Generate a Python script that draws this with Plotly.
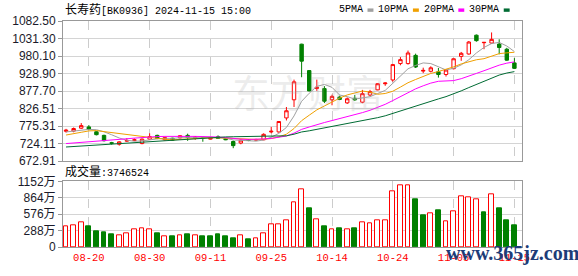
import numpy as np
import pandas as pd
import plotly.graph_objects as go

# ---------------- data ----------------
dates = ["08-15", "08-16", "08-19", "08-20", "08-21", "08-22", "08-23", "08-26", "08-27", "08-28",
         "08-29", "08-30", "09-02", "09-03", "09-04", "09-05", "09-06", "09-09", "09-10", "09-11",
         "09-12", "09-13", "09-18", "09-19", "09-20", "09-23", "09-24", "09-25", "09-26", "09-27",
         "09-30", "10-08", "10-09", "10-10", "10-11", "10-14", "10-15", "10-16", "10-17", "10-18",
         "10-21", "10-22", "10-23", "10-24", "10-25", "10-28", "10-29", "10-30", "10-31", "11-01",
         "11-04", "11-05", "11-06", "11-07", "11-08", "11-11", "11-12", "11-13", "11-14", "11-15"]

open_ = [760, 760.5, 769, 772.7, 758.5, 748, 726.5, 722, 731, 733,
         724, 737, 748, 735, 739.7, 740.7, 748, 740, 742, 737,
         744, 738.8, 730, 725.6, 735, 734, 735, 758, 758, 799,
         852, 1014.7, 937.5, 885, 884.8, 852, 860, 843, 856.5, 845,
         866, 881, 899, 910, 958, 958, 982, 936, 935.5, 934,
         926, 943, 979, 986, 1041, 1019, 1018, 1015, 1000, 960]
high = [767, 771, 784, 778, 760, 750, 729, 731, 740, 739,
        739, 754, 750, 744, 741, 748, 753, 746, 744.4, 742,
        748, 740, 733, 736, 737, 738, 754, 772.7, 790, 831,
        911, 1016, 938, 911, 892, 867, 864, 859, 866, 881,
        881, 900, 903, 957, 977, 996, 987, 946, 950, 945,
        941, 973, 992, 1024, 1043, 1020.5, 1049, 1029, 1004, 974]
low = [756, 757, 767, 764, 748, 730, 721, 718, 729, 731,
       722, 735, 737, 733, 732, 739, 732, 735, 729.4, 736,
       738, 734, 710.5, 722, 731, 732, 734, 754, 756, 791.6,
       831, 918, 877, 878, 842.5, 836, 851, 840, 849, 842,
       863, 880, 893, 905, 953, 955, 945, 930, 932, 917,
       920, 941, 966, 984, 1022, 1000, 1016, 985, 966, 942]
close = [763, 768, 776.5, 765, 750, 732.5, 725, 729, 733, 735,
         737, 744.5, 739, 741.5, 734, 747, 741.6, 743, 741, 740,
         739, 735, 718, 734, 733, 736, 751, 760, 788.5, 820,
         904.6, 965, 878, 889, 848, 862, 853, 855, 851.8, 870,
         876, 899, 901, 955, 969.5, 989, 948, 938, 945.5, 926,
         939, 972, 988, 1021, 1025, 1020, 1028.8, 1005, 968, 944]
prev_close = 755.0

# volume in 万 (10k shares)
volume_wan = [354, 382, 433, 371, 270, 253, 219, 197, 247, 303,
              320, 303, 236, 180, 185, 197, 219, 197, 185, 185,
              219, 185, 157, 197, 140, 152, 247, 399, 399, 472,
              776, 1006, 674, 483, 371, 303, 320, 303, 320, 438,
              416, 472, 472, 978, 1079, 1079, 843, 556, 584, 641,
              455, 624, 894, 871, 837, 607, 927, 674, 472, 374.6524]
last_volume = 3746524

# moving-average values at the start of the window (history before the window is not shown)
ma5_head = [758, 760, 764, 765.5]
ma10_head = [749, 752, 757, 761, 762, 759, 756, 753, 750]
ma20_head = [724, 725.5, 727, 728.5, 730, 732, 734, 736, 738, 740,
             742, 743.5, 744.5, 745, 745.5, 745.5, 745, 745, 744.5]
ma30_head = [714, 715.5, 717, 718.5, 720, 721.5, 723, 724.5, 726, 727.5,
             729, 730.5, 732, 733.5, 735, 736.5, 738, 739.5, 741, 742,
             743, 743.5, 744, 744.5, 745, 745.5, 746, 746.2, 746.5]

price_ticks = [672.91, 724.11, 775.31, 826.51, 877.70, 928.90, 980.10, 1031.30, 1082.50]
price_tick_text = ["672.91", "724.11", "775.31", "826.51", "877.70", "928.90", "980.10", "1031.30", "1082.50"]
vol_ticks = [0, 288, 576, 864, 1152]
vol_tick_text = ["0", "288万", "576万", "864万", "1152万"]
date_ticks = ["08-20", "08-30", "09-11", "09-25", "10-14", "10-24", "11-05", "11-15"]

title_name = "长寿药"
title_rest = "[BK0936] 2024-11-15 15:00"
ma_names = ["5PMA", "10PMA", "20PMA", "30PMA"]
ma_colors = ["#a0a0a0", "#f0a000", "#ff00ff", "#006b33"]

# ---------------- derived ----------------
idx = np.arange(len(dates))
close_arr = np.array(close, dtype=float)


def moving_average(n, head):
    s = pd.Series(close_arr).rolling(n).mean().to_numpy()
    s[: n - 1] = head
    return s


mas = [moving_average(5, ma5_head), moving_average(10, ma10_head),
       moving_average(20, ma20_head), moving_average(30, ma30_head)]

prev = np.concatenate([[prev_close], close_arr[:-1]])
up = close_arr >= prev
RED = "#ff0000"
GREEN = "#008000"
vol_fill = np.where(up, "#ffffff", GREEN)
vol_line = np.where(up, RED, GREEN)

tick_idx = [dates.index(d) for d in date_ticks]

# ---------------- figure ----------------
W, H = 578, 276
ML, MR, MT, MB = 57, 56, 21, 21
PW, PH = W - ML - MR, H - MT - MB


def px_x(px):
    return (px - ML) / PW


def px_y(py):
    return (H - MB - py) / PH


fig = go.Figure()

fig.add_trace(go.Candlestick(
    x=idx, open=open_, high=high, low=low, close=close,
    increasing=dict(line=dict(color=RED, width=1), fillcolor="#ffffff"),
    decreasing=dict(line=dict(color=GREEN, width=1), fillcolor=GREEN),
    whiskerwidth=0, showlegend=False, hoverinfo="skip",
    xaxis="x", yaxis="y"))

for m, c in zip(mas, ma_colors):
    fig.add_trace(go.Scatter(x=idx, y=m, mode="lines", line=dict(color=c, width=1),
                             showlegend=False, hoverinfo="skip", xaxis="x", yaxis="y"))

fig.add_trace(go.Bar(
    x=idx, y=volume_wan, width=0.62,
    marker=dict(color=list(vol_fill), line=dict(color=list(vol_line), width=1)),
    showlegend=False, hoverinfo="skip", xaxis="x2", yaxis="y2"))

xrange = [-0.4, len(dates)]
axis_common = dict(showline=True, linecolor="#999999", linewidth=1, mirror=True, zeroline=False)

fig.update_layout(
    width=W, height=H,
    margin=dict(l=ML, r=MR, t=MT, b=MB),
    paper_bgcolor="#ffffff", plot_bgcolor="#ffffff",
    boxgap=0.36,
    bargap=0,
    xaxis=dict(domain=[0, 1], range=xrange, anchor="y", tickvals=tick_idx, showticklabels=False,
               showgrid=True, gridcolor="#cccccc", griddash="dash", gridwidth=1, ticks="",
               rangeslider=dict(visible=False), **axis_common),
    yaxis=dict(domain=[px_y(166), 1], range=[price_ticks[0], price_ticks[-1]], anchor="x",
               tickvals=price_ticks, ticktext=price_tick_text, showgrid=True, gridcolor="#d4d4d4",
               ticks="outside", ticklen=4, tickcolor="#999999",
               tickfont=dict(family="Liberation Sans, Arial, sans-serif", size=12, color="#1a1a2a"),
               **axis_common),
    xaxis2=dict(domain=[0, 1], range=xrange, anchor="y2", tickvals=tick_idx, ticktext=date_ticks,
                showgrid=True, gridcolor="#cccccc", griddash="dash", gridwidth=1, ticks="",
                tickfont=dict(family="Liberation Mono, monospace", size=10.5, color=RED),
                **axis_common),
    yaxis2=dict(domain=[0, px_y(187)], range=[vol_ticks[0], vol_ticks[-1]], anchor="x2",
                tickvals=vol_ticks, ticktext=vol_tick_text, showgrid=True, gridcolor="#d4d4d4",
                ticks="outside", ticklen=4, tickcolor="#999999",
                tickfont=dict(family="Liberation Sans, Noto Sans CJK SC, sans-serif", size=12, color="#1a1a2a"),
                **axis_common),
)

mono = "Liberation Mono, Noto Sans CJK SC, monospace"
annotations = [
    dict(text="<span style='font-size:12px'>%s</span>%s" % (title_name, title_rest),
         x=px_x(57), y=px_y(10), xref="paper", yref="paper", xanchor="left", yanchor="middle",
         showarrow=False, font=dict(family=mono, size=10, color="#000000")),
    dict(text="<span style='font-size:12px'>成交量</span>:%d" % last_volume,
         x=px_x(57), y=px_y(177), xref="paper", yref="paper", xanchor="left", yanchor="middle",
         showarrow=False, font=dict(family=mono, size=10, color="#000000")),
    dict(text="东方财富", x=px_x(305), y=px_y(93), xref="paper", yref="paper",
         xanchor="center", yanchor="middle", showarrow=False,
         font=dict(family="Noto Sans CJK SC", size=38, color="rgba(170,170,170,0.22)")),
    dict(text="<b>www.365jz.com</b>", x=px_x(513), y=px_y(262), xref="paper", yref="paper",
         xanchor="center", yanchor="middle", showarrow=False,
         font=dict(family="Liberation Serif, serif", size=20, color="#1d3c78")),
]

legend_right = [363, 409, 455, 501]
shapes = []
for name, col, xr in zip(ma_names, ma_colors, legend_right):
    annotations.append(dict(text=name, x=px_x(xr), y=px_y(9.5), xref="paper", yref="paper",
                            xanchor="right", yanchor="middle", showarrow=False,
                            font=dict(family="Liberation Mono, monospace", size=10, color="#000000")))
    shapes.append(dict(type="rect", xref="paper", yref="paper",
                       x0=px_x(xr + 2.5), x1=px_x(xr + 8.5), y0=px_y(11.5), y1=px_y(8),
                       fillcolor=col, line=dict(width=0)))

fig.update_layout(annotations=annotations, shapes=shapes)

fig.write_html("out.html")
